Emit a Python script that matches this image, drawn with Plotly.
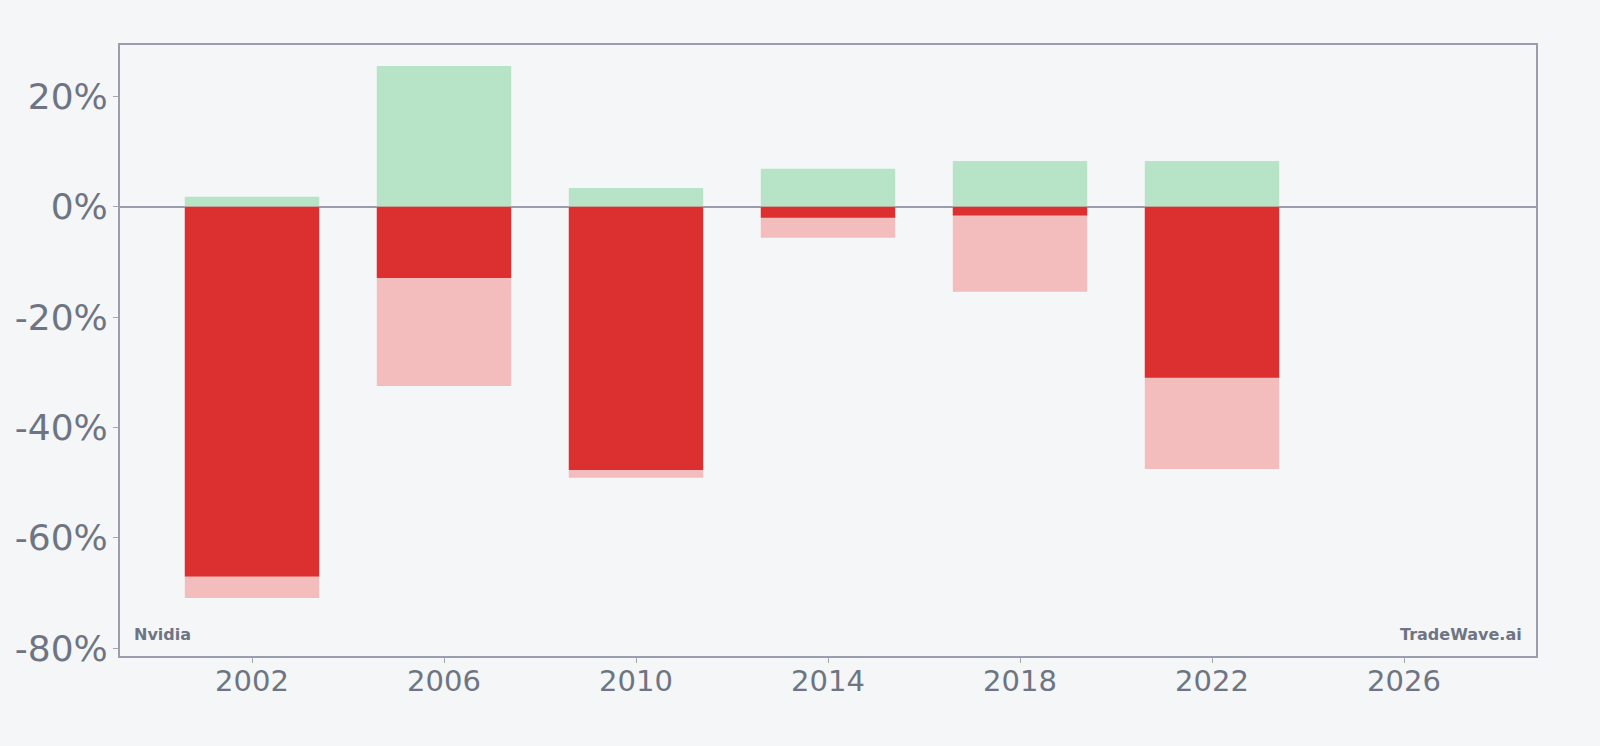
import plotly.graph_objects as go

years = [2002, 2006, 2010, 2014, 2018, 2022]
max_gain = [1.8, 25.5, 3.4, 6.9, 8.3, 8.3]
max_drawdown = [-70.9, -32.5, -49.1, -5.6, -15.4, -47.5]
period_return = [-67.0, -12.9, -47.7, -2.0, -1.6, -31.0]
tick_years = [2002, 2006, 2010, 2014, 2018, 2022, 2026]
y_ticks = [20, 0, -20, -40, -60, -80]

bar_width = 2.8
axis_color = "#9a9dad"
tick_color = "#a3a6b3"
text_color = "#6e7482"
bg = "#f4f6f8"

fig = go.Figure()
fig.add_trace(go.Bar(x=years, y=max_gain, width=bar_width, marker=dict(color="#b7e4c7", line=dict(width=0)), showlegend=False))
fig.add_trace(go.Bar(x=years, y=max_drawdown, width=bar_width, marker=dict(color="#f4bdbd", line=dict(width=0)), showlegend=False))
fig.add_trace(go.Bar(x=years, y=period_return, width=bar_width, marker=dict(color="#dc2f2f", line=dict(width=0)), showlegend=False))

fig.update_layout(
    barmode="overlay",
    width=1600, height=746,
    margin=dict(l=120, r=64, t=45, b=90),
    paper_bgcolor=bg, plot_bgcolor=bg,
    font=dict(family="DejaVu Sans", color=text_color),
    xaxis=dict(
        range=[1999.25, 2028.75], tickvals=tick_years, ticktext=[str(t) for t in tick_years],
        showgrid=False, zeroline=False, showline=True, mirror=True, linecolor=axis_color, linewidth=2,
        ticks="outside", ticklen=5, tickcolor=tick_color, tickwidth=1, tickfont=dict(size=29, color=text_color),
        ticklabelstandoff=-7,
    ),
    yaxis=dict(
        range=[-81.4, 29.3], tickvals=y_ticks, ticktext=[f"{v}%" for v in y_ticks],
        showgrid=False, zeroline=True, zerolinecolor=axis_color, zerolinewidth=2,
        showline=True, mirror=True, linecolor=axis_color, linewidth=2,
        ticks="outside", ticklen=5, tickcolor=tick_color, tickwidth=1, tickfont=dict(size=36, color=text_color),
        ticklabelstandoff=-2,
    ),
    annotations=[
        dict(text="<b>Nvidia</b>", xref="paper", yref="paper", x=0, y=0, xanchor="left", yanchor="bottom",
             xshift=12, yshift=10, showarrow=False, font=dict(size=16, color=text_color)),
        dict(text="<b>TradeWave.ai</b>", xref="paper", yref="paper", x=1, y=0, xanchor="right", yanchor="bottom",
             xshift=-12, yshift=10, showarrow=False, font=dict(size=16, color=text_color)),
    ],
)

fig.write_html("out.html")
